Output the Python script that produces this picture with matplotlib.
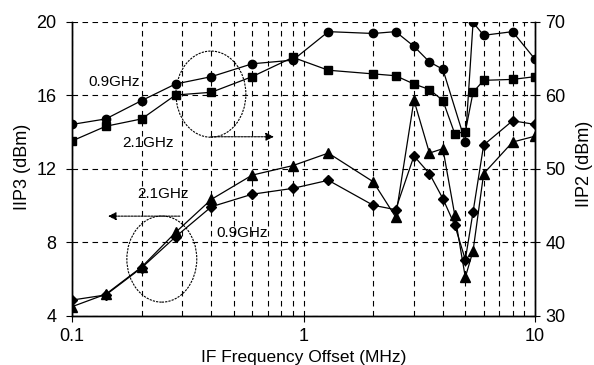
import matplotlib
matplotlib.use('Agg')
import matplotlib.pyplot as plt
from matplotlib.patches import Ellipse
from matplotlib.ticker import FixedLocator, NullFormatter

plt.rcParams['font.family'] = ['Liberation Sans', 'DejaVu Sans']

# IIP3 (left axis)
x_c = [0.1, 0.14, 0.2, 0.28, 0.4, 0.6, 0.9, 1.28, 2, 2.5, 3, 3.5, 4, 5, 5.4, 6, 8, 10]
iip3_09 = [14.4, 14.7, 15.7, 16.6, 17.0, 17.7, 17.9, 19.45, 19.35, 19.45, 18.65, 17.8, 17.4, 13.45, 19.95, 19.25, 19.45, 17.95]
x_f = [0.1, 0.14, 0.2, 0.28, 0.4, 0.6, 0.9, 1.28, 2, 2.5, 3, 3.5, 4, 4.5, 5, 5.4, 6, 8, 10]
iip3_21 = [13.5, 14.3, 14.7, 16.0, 16.15, 17.0, 18.05, 17.35, 17.15, 17.05, 16.6, 16.3, 15.7, 13.9, 14.0, 16.15, 16.8, 16.85, 17.0]
# IIP2 (right axis)
iip2_21 = [31.2, 32.9, 36.6, 41.3, 45.8, 49.1, 50.4, 52.1, 48.2, 43.4, 59.3, 52.1, 52.7, 43.7, 35.2, 38.8, 49.3, 53.6, 54.4]
iip2_09 = [32.1, 32.8, 36.5, 40.7, 44.8, 46.5, 47.3, 48.4, 45.0, 44.4, 51.7, 49.3, 45.9, 42.3, 37.6, 44.1, 53.2, 56.5, 56.0]

fig = plt.figure(figsize=(5.94, 3.65), dpi=100)
ax1 = fig.add_axes([0.1212, 0.1356, 0.7795, 0.8054])
ax2 = ax1.twinx()

ax1.plot(x_c, iip3_09, marker='o', markersize=6, color='black', linewidth=0.9)
ax1.plot(x_f, iip3_21, marker='s', markersize=6, color='black', linewidth=0.9)
ax2.plot(x_f, iip2_21, marker='^', markersize=7, color='black', linewidth=0.9)
ax2.plot(x_f, iip2_09, marker='D', markersize=4.8, color='black', linewidth=0.9)

ax1.set_xscale('log')
ax1.set_xlim(0.1, 10)
ax1.set_ylim(4, 20)
ax2.set_ylim(30, 70)
ax1.set_yticks([4, 8, 12, 16, 20])
ax2.set_yticks([30, 40, 50, 60, 70])
ax1.set_xticks([0.1, 1, 10])
ax1.set_xticklabels(['0.1', '1', '10'])
minors = [k * d for d in (0.1, 1) for k in range(2, 10)]
ax1.xaxis.set_minor_locator(FixedLocator(minors))
ax1.xaxis.set_minor_formatter(NullFormatter())
ax1.tick_params(axis='x', which='minor', length=0)
ax1.tick_params(axis='x', which='major', labelsize=13, length=4, direction='out', pad=5)
ax1.tick_params(axis='y', labelsize=13, length=4, direction='out', pad=7)
ax2.tick_params(axis='y', labelsize=13, length=7, direction='inout', pad=4)

gk = dict(color='black', linestyle=(0, (5, 4)), linewidth=0.8)
ax1.grid(True, which='major', axis='y', **gk)
ax1.grid(True, which='both', axis='x', **gk)
ax1.set_axisbelow(True)
for a in (ax1, ax2):
    a.spines['top'].set_visible(False)
    for s in ('left', 'right', 'bottom'):
        a.spines[s].set_linewidth(1.0)

ax1.set_xlabel('IF Frequency Offset (MHz)', fontsize=12.5)
ax1.set_ylabel('IIP3 (dBm)', fontsize=13)
ax2.set_ylabel('IIP2 (dBm)', fontsize=13)
ax1.xaxis.set_label_coords(0.5, -0.116)
ax1.yaxis.set_label_coords(-0.088, 0.505)
ax2.yaxis.set_label_coords(1.089, 0.515)

# annotations
tk = dict(transform=ax1.transAxes, fontsize=11, ha='center', va='center')
ax1.text(0.091, 0.794, '0.9GHz', **tk)
ax1.text(0.165, 0.587, '2.1GHz', **tk)
ax1.text(0.197, 0.415, '2.1GHz', **tk)
ax1.text(0.367, 0.282, '0.9GHz', **tk)

ek = dict(transform=ax1.transAxes, fill=False, edgecolor='black', linewidth=0.8, linestyle=(0, (2, 1)))
ax1.add_patch(Ellipse((0.300, 0.753), 0.151, 0.293, **ek))
ax1.add_patch(Ellipse((0.194, 0.192), 0.151, 0.293, **ek))

ak = dict(arrowstyle='-|>', color='black', linewidth=0.8, linestyle=(0, (2, 1)), mutation_scale=12, shrinkA=0, shrinkB=0)
ax1.annotate('', xy=(0.436, 0.608), xytext=(0.300, 0.608), xycoords='axes fraction', arrowprops=ak)
ax1.annotate('', xy=(0.078, 0.338), xytext=(0.233, 0.338), xycoords='axes fraction', arrowprops=ak)

fig.savefig('out.png', dpi=100)
